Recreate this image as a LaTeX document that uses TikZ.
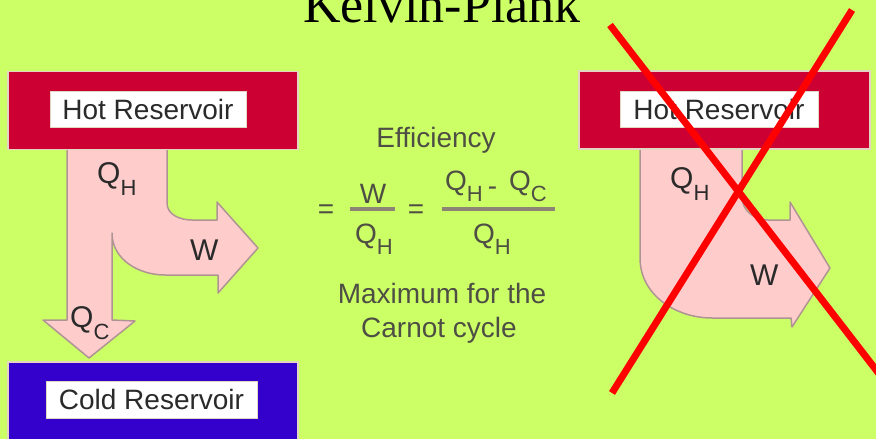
\documentclass[tikz,border=0pt]{standalone}
\usepackage{fontspec}
\setmainfont{Liberation Serif}
\setsansfont{Liberation Sans}
\usetikzlibrary{positioning}
\definecolor{bgpage}{HTML}{CCFF66}
\definecolor{hotres}{HTML}{CC0033}
\definecolor{coldres}{HTML}{3300CC}
\definecolor{resedge}{HTML}{E2D6C2}
\definecolor{flowfill}{HTML}{FFCCCC}
\definecolor{flowedge}{HTML}{B09494}
\definecolor{labtext}{HTML}{2A2A2A}
\definecolor{eqtext}{HTML}{4E4E44}
\definecolor{eqbar}{HTML}{8C8474}
\definecolor{crossred}{HTML}{FF0000}
\newcommand{\Qsub}[1]{Q\raisebox{-0.4em}{\fontsize{22}{22}\selectfont #1}}

\begin{document}
\begin{tikzpicture}[x=1pt, y=-1pt,
    res/.style={draw=resedge, line width=1.5pt, minimum width=290pt, minimum height=78pt, inner sep=0pt},
    tag/.style={fill=white, draw=resedge, line width=0.8pt, minimum height=36pt, inner sep=0pt,
                font=\fontsize{28}{28}\sffamily, text=labtext},
    flow/.style={fill=flowfill, draw=flowedge, line width=1.5pt, line join=round},
    lab/.style={font=\fontsize{30}{30}\sffamily, text=labtext, inner sep=0pt, anchor=base west},
    eq/.style={font=\fontsize{28}{28}\sffamily, text=eqtext, inner sep=0pt, anchor=base},
    bar/.style={draw=eqbar, line width=3.5pt},
    cross/.style={draw=crossred, line width=7pt}
  ]
  \fill[bgpage] (0,0) rectangle (876,439);
  \useasboundingbox (0,0) rectangle (876,439);
  \node[font=\fontsize{52}{52}\selectfont, anchor=base, inner sep=0pt] (title) at (442,22) {Kelvin-Plank};
  % allowed engine
  \draw[flow] (67,149) -- (167,149) -- (167,203) to[out=-90,in=180] (192,220) -- (217,220)
    -- (217,202) -- (258,248) -- (218,293) -- (218,275) -- (165,275) to[out=180,in=-90] (112,233)
    -- (112,320) -- (135,321) -- (89,358) -- (43,320) -- (67,320) -- cycle;
  \node[res, fill=hotres] (hotL) at (153,110.5) {};
  \node[tag, minimum width=196pt] (hotLtag) at (148,109) {Hot Reservoir};
  \node[res, fill=coldres, minimum height=80pt] (coldL) at (153,402) {};
  \node[tag, minimum width=211pt, minimum height=37pt] (coldLtag) at (151.5,399.5) {Cold Reservoir};
  \node[lab] (qhL) at (97,183) {\Qsub{H}};
  \node[lab] (wL) at (190,260) {W};
  \node[lab] (qcL) at (70,327) {\Qsub{C}};
  % efficiency
  \node[eq] (eff) at (436,147) {Efficiency};
  \node[eq, anchor=center] (eqa) at (326,212) {=};
  \draw[bar] (350,209) -- (395,209);
  \node[eq] (wnum) at (373,203) {W};
  \node[eq, anchor=base west] (qden1) at (355,243) {\Qsub{H}};
  \node[eq, anchor=center] (eqb) at (416,212) {=};
  \draw[bar] (442,209) -- (555,209);
  \node[eq, anchor=base west] (qnum) at (445,190) {\Qsub{H}\hspace{5pt}\raisebox{-0.2em}{-}\hspace{12pt}\Qsub{C}};
  \node[eq, anchor=base west] (qden2) at (473,243) {\Qsub{H}};
  \node[eq] (maxline) at (442,303) {Maximum for the};
  \node[eq] (carnot) at (439,337) {Carnot cycle};
  % forbidden engine
  \draw[flow] (640,149) -- (742,149) -- (742,197) to[out=-90,in=180] (768,220) -- (790,220)
    -- (790,202) -- (830,268) -- (792,327) -- (791,318) -- (712,318) to[out=180,in=-90] (640,258) -- cycle;
  \node[res, fill=hotres, minimum width=291pt] (hotR) at (724.5,110) {};
  \node[tag, minimum width=198pt] (hotRtag) at (719,109) {Hot Reservoir};
  \node[lab] (qhR) at (670,188) {\Qsub{H}};
  \node[lab] (wR) at (750,285) {W};
  \draw[cross] (610,25) -- (890,388);
  \draw[cross] (852,10) -- (612,393);
\end{tikzpicture}
\end{document}
